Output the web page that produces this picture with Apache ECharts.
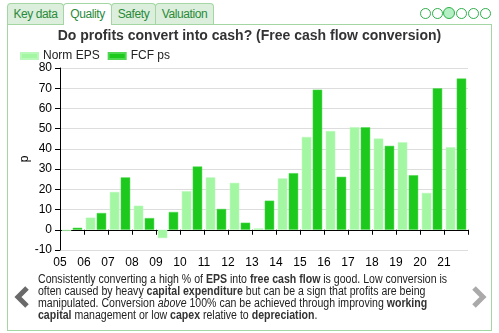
<!DOCTYPE html>
<html><head><meta charset="utf-8">
<script src="https://cdn.jsdelivr.net/npm/echarts@6/dist/echarts.min.js"></script>
<style>
html,body{margin:0;padding:0;width:499px;height:333px;overflow:hidden;background:#fff;font-family:"Liberation Sans",Arial,sans-serif;}
#panel{position:absolute;left:7px;top:24px;width:483px;height:305px;border:1px solid #a3d6a3;}
.tab{position:absolute;top:3px;height:20px;border:1px solid #a3d6a3;border-bottom:none;background:#dcefdc;color:#2a8a3a;font-size:12px;letter-spacing:-0.4px;line-height:21px;text-align:center;border-radius:4px 4px 0 0;box-sizing:content-box;}
.tab.active{background:#fff;height:21px;z-index:2;}
#chart{position:absolute;left:0;top:0;width:499px;height:333px;}
#desc{position:absolute;left:38px;top:273px;width:480px;font-size:12px;line-height:12px;color:#222;transform:scaleX(0.88);transform-origin:0 0;}
#desc b{font-weight:bold;color:#333;}
.dot{position:absolute;top:8px;width:9px;height:9px;border:1px solid #2db04a;border-radius:50%;background:#fff;}
.dot.on{background:#b4f0c4;width:10px;height:10px;top:7px;}
</style></head><body>
<div id="panel"></div>
<div class="tab" style="left:7px;width:55px;">Key data</div>
<div class="tab active" style="left:63px;width:47px;">Quality</div>
<div class="tab" style="left:111px;width:43px;">Safety</div>
<div class="tab" style="left:155px;width:57px;">Valuation</div>
<div class="dot" style="left:420px"></div>
<div class="dot" style="left:432px"></div>
<div class="dot on" style="left:443px"></div>
<div class="dot" style="left:456px"></div>
<div class="dot" style="left:468px"></div>
<div class="dot" style="left:480px"></div>
<div id="chart"></div>
<svg style="position:absolute;left:14px;top:286px" width="18" height="22"><polyline points="13,2 4,11 13,20" fill="none" stroke="#6a6a6a" stroke-width="5"/></svg>
<svg style="position:absolute;left:470px;top:286px" width="18" height="22"><polyline points="4,2 13,11 4,20" fill="none" stroke="#aaaaaa" stroke-width="5"/></svg>
<div id="desc">Consistently converting a high % of <b>EPS</b> into <b>free cash flow</b> is good. Low conversion is often caused by heavy <b>capital expenditure</b> but can be a sign that profits are being manipulated. Conversion <i>above</i> 100% can be achieved through improving <b>working capital</b> management or low <b>capex</b> relative to <b>depreciation</b>.</div>
<script>
var categories = ['05','06','07','08','09','10','11','12','13','14','15','16','17','18','19','20','21'];
var normEps = [-0.6, 6.0, 18.7, 11.9, -4.1, 19.1, 25.9, 23.2, 0.7, 25.4, 45.9, 48.8, 50.7, 45.1, 43.3, 18.2, 40.8];
var fcfPs   = [1.0, 8.3, 25.9, 5.8, 8.8, 31.3, 10.3, 3.5, 14.4, 28.0, 69.3, 26.2, 50.7, 41.5, 27.0, 70.0, 74.8];
var yTicks = {min: -10, max: 80, interval: 10};
var yName = 'p';

var chart = echarts.init(document.getElementById('chart'));
chart.setOption({
  animation: false,
  textStyle: {fontFamily: 'Liberation Sans'},
  title: {text: 'Do profits convert into cash? (Free cash flow conversion)', left: 'center', top: 24,
    textStyle: {fontSize: 14, fontWeight: 'bold', color: '#333', fontFamily: 'Liberation Sans'}},
  legend: {left: 15, top: 45, itemWidth: 17, itemHeight: 6, itemGap: 8,
    textStyle: {fontSize: 12, color: '#222', fontFamily: 'Liberation Sans'},
    data: [{name:'Norm EPS', icon:'rect'}, {name:'FCF ps', icon:'rect'}]},
  graphic: [{type: 'text', x: 25, y: 159, rotation: Math.PI / 2,
    style: {text: yName, fill: '#000', font: '12px "Liberation Sans"', align: 'center', verticalAlign: 'middle'}}],
  grid: {left: 60, right: 31, top: 68, bottom: 83},
  xAxis: {type: 'category', data: categories, boundaryGap: true,
    axisLine: {lineStyle: {color: '#000'}},
    axisTick: {show: true, length: 5, alignWithLabel: false, lineStyle: {color: '#000'}},
    axisLabel: {color: '#000', fontSize: 12, padding: [0, 24, 0, 0], interval: 0, margin: 7,
      fontFamily: 'Liberation Sans'}},
  yAxis: {type: 'value', min: yTicks.min, max: yTicks.max, interval: yTicks.interval,
    axisLine: {show: true, lineStyle: {color: '#000'}},
    axisTick: {show: true, length: 5, lineStyle: {color: '#000'}},
    axisLabel: {color: '#000', fontSize: 12, margin: 8, fontFamily: 'Liberation Sans'},
    splitLine: {lineStyle: {color: '#dddddd'}}},
  series: [
    {name: 'Norm EPS', type: 'bar', data: normEps, barWidth: 9.5, barGap: '15%',
      itemStyle: {color: '#a3f7a3', borderColor: '#b8f8b8', borderWidth: 0.5}},
    {name: 'FCF ps', type: 'bar', data: fcfPs, barWidth: 9.5,
      itemStyle: {color: '#1ec91e', borderColor: '#4fd84f', borderWidth: 0.5}}
  ]
});
</script>
</body></html>
